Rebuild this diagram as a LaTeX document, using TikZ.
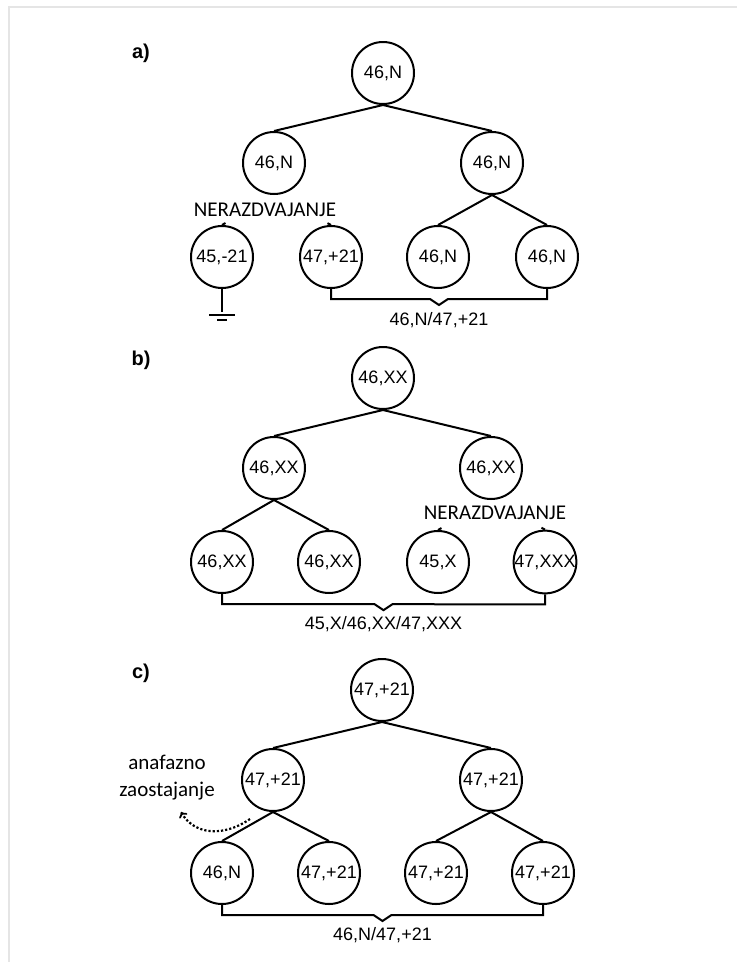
\documentclass[tikz,border=0pt]{standalone}
\usepackage{fontspec}
\newfontfamily\arialfont{Liberation Sans}
\newfontfamily\calibrifont{Carlito}
\usetikzlibrary{calc}

\begin{document}
\begin{tikzpicture}[x=1pt,y=-1pt]
    \tikzset{cell/.style={draw, circle, line width=2pt, minimum size=62pt, inner sep=0pt,
        font=\arialfont\fontsize{18}{18}\selectfont},
      branch/.style={line width=2pt},
      note/.style={font=\calibrifont\fontsize{21}{27}\selectfont, inner sep=0pt},
      tag/.style={font=\arialfont\bfseries\fontsize{20}{20}\selectfont, inner sep=0pt},
      mix/.style={font=\arialfont\fontsize{18}{18}\selectfont, inner sep=0pt}
    }

    \useasboundingbox (0,0) rectangle (737,962);
    \draw[gray!20, line width=2pt] (9,962) -- (9,7) -- (737,7);

    % a)
    \node[tag] (ta) at (141,53) {a)};
    \node[cell] (A) at (383,73) {46,N};
    \node[cell] (A21) at (274,163) {46,N};
    \node[cell] (A22) at (492,163) {46,N};
    \node[cell] (A31) at (222,257) {45,-21};
    \node[cell] (A32) at (331,257) {47,+21};
    \node[cell] (A33) at (438,257) {46,N};
    \node[cell] (A34) at (547,257) {46,N};

    \draw[branch] (A.south) -- (A21.north);
    \draw[branch] (A.south) -- (A22.north);
    \draw[branch] (A22.south) -- (A33.north);
    \draw[branch] (A22.south) -- (A34.north);
    \draw[branch] (A31.north) -- ($(A31.north)!4pt!(A21.south)$);
    \draw[branch] (A32.north) -- ($(A32.north)!4pt!(A21.south)$);

    \node[note] (nda) at (265,210) {NERAZDVAJANJE};

    \draw[branch] (A31.south) -- ++(0,23) coordinate (gnd);
    \draw[branch] ($(gnd)+(-13,3)$) -- ++(26,0);
    \draw[branch] ($(gnd)+(-5,8)$) -- ++(10,0);

    \coordinate (Abl) at ($(A32.south)+(0,10)$);
    \coordinate (Abr) at ($(A34.south)+(0,10)$);
    \coordinate (Abm) at ($(Abl)!0.5!(Abr)$);
    \draw[branch] (A32.south) -- (Abl) -- ($(Abm)+(-9,0)$) -- ($(Abm)+(0,6)$) -- ($(Abm)+(9,0)$) -- (Abr) -- (A34.south);
    \node[mix] (ma) at ($(Abm)+(0,21)$) {46,N/47,+21};

    % b)
    \node[tag] (tb) at (141,360) {b)};
    \node[cell] (B) at (383,378) {46,XX};
    \node[cell] (B21) at (274,468) {46,XX};
    \node[cell] (B22) at (491,468) {46,XX};
    \node[cell] (B31) at (222,562) {46,XX};
    \node[cell] (B32) at (329,562) {46,XX};
    \node[cell] (B33) at (438,562) {45,X};
    \node[cell] (B34) at (545,562) {47,XXX};

    \draw[branch] (B.south) -- (B21.north);
    \draw[branch] (B.south) -- (B22.north);
    \draw[branch] (B21.south) -- (B31.north);
    \draw[branch] (B21.south) -- (B32.north);
    \draw[branch] (B33.north) -- ($(B33.north)!4pt!(B22.south)$);
    \draw[branch] (B34.north) -- ($(B34.north)!4pt!(B22.south)$);

    \node[note] (ndb) at (495,513) {NERAZDVAJANJE};

    \coordinate (Bbl) at ($(B31.south)+(0,10)$);
    \coordinate (Bbr) at ($(B34.south)+(0,10)$);
    \coordinate (Bbm) at ($(Bbl)!0.5!(Bbr)$);
    \draw[branch] (B31.south) -- (Bbl) -- ($(Bbm)+(-9,0)$) -- ($(Bbm)+(0,6)$) -- ($(Bbm)+(9,0)$) -- (Bbr) -- (B34.south);
    \node[mix] (mb) at ($(Bbm)+(0,20)$) {45,X/46,XX/47,XXX};

    % c)
    \node[tag] (tc) at (141,673) {c)};
    \node[cell] (C) at (382,690) {47,+21};
    \node[cell] (C21) at (273,780) {47,+21};
    \node[cell] (C22) at (491,780) {47,+21};
    \node[cell] (C31) at (222,873) {46,N};
    \node[cell] (C32) at (329,873) {47,+21};
    \node[cell] (C33) at (436,873) {47,+21};
    \node[cell] (C34) at (543,873) {47,+21};

    \draw[branch] (C.south) -- (C21.north);
    \draw[branch] (C.south) -- (C22.north);
    \draw[branch] (C21.south) -- (C31.north);
    \draw[branch] (C21.south) -- (C32.north);
    \draw[branch] (C22.south) -- (C33.north);
    \draw[branch] (C22.south) -- (C34.north);

    \node[note, align=center] (lag) at (167,778) {anafazno\\zaostajanje};
    \coordinate (lagstart) at (250,819);
    \coordinate (lagtip) at (181,812);
    \draw[line width=2.2pt, dotted, ->] (lagstart) .. controls (222,838) and (194,834) .. (lagtip);

    \coordinate (Cbl) at ($(C31.south)+(0,10)$);
    \coordinate (Cbr) at ($(C34.south)+(0,10)$);
    \coordinate (Cbm) at ($(Cbl)!0.5!(Cbr)$);
    \draw[branch] (C31.south) -- (Cbl) -- ($(Cbm)+(-9,0)$) -- ($(Cbm)+(0,6)$) -- ($(Cbm)+(9,0)$) -- (Cbr) -- (C34.south);
    \node[mix] (mc) at ($(Cbm)+(0,20)$) {46,N/47,+21};
  \end{tikzpicture}
\end{document}
